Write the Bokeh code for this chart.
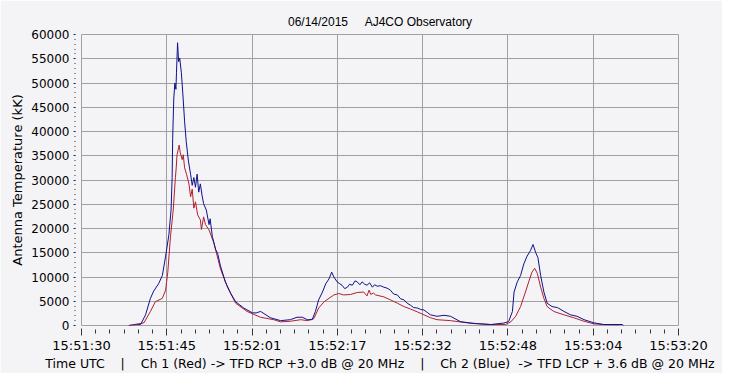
from bokeh.plotting import figure
from bokeh.models import FixedTicker, CustomJSTickFormatter, Range1d
from bokeh.embed import file_html
from bokeh.resources import INLINE

# seconds after 15:51:30 UTC
x_labels = ["15:51:30", "15:51:45", "15:52:01", "15:52:17", "15:52:32", "15:52:48", "15:53:04", "15:53:20"]
x_span = 110.0

blue_t = [8.7, 10.9, 11.8, 12.7, 13.3, 14.2, 14.9, 15.5, 16.1, 16.5,
          16.7, 16.8, 17.0, 17.2, 17.4, 17.5, 17.7, 17.9, 18.1, 18.4,
          18.7, 19.0, 19.3, 19.7, 20.1, 20.4, 20.7, 21.0, 21.3, 21.6,
          21.9, 22.2, 22.5, 23.0, 23.5, 23.7, 24.1, 24.7, 25.1, 25.6,
          26.5, 27.5, 28.4, 29.9, 31.5, 32.2, 33.0, 34.8, 36.7, 38.5,
          39.7, 40.7, 41.6, 42.5, 43.1, 43.7, 44.4, 45.0, 45.6, 46.1,
          46.5, 47.1, 47.6, 48.0, 48.5, 49.0, 49.4, 49.9, 50.4, 50.8,
          51.3, 51.7, 52.2, 52.6, 53.1, 53.6, 54.0, 54.5, 55.1, 55.7,
          56.3, 56.9, 57.5, 58.2, 58.8, 59.4, 60.0, 60.6, 61.2, 61.9,
          62.5, 63.1, 63.7, 64.3, 65.5, 66.8, 68.0, 69.8, 72.3, 75.4,
          77.8, 78.7, 79.4, 79.7, 80.3, 80.9, 81.5, 82.1, 82.7, 83.2,
          83.7, 84.1, 84.6, 85.2, 85.8, 86.7, 87.7, 88.9, 90.1, 91.3,
          92.6, 94.4, 96.2, 99.6, 99.9]
blue_v = [0, 200, 2200, 5600, 7100, 8600, 10300, 14300, 18700, 23800,
          30500, 38600, 46700, 50000, 48700, 52100, 58300, 54400, 55100, 52100,
          47300, 42000, 37900, 33900, 31200, 28900, 30500, 28500, 31200, 27500,
          29200, 26900, 25100, 23800, 20800, 22000, 18400, 15700, 14800, 12300,
          9000, 6600, 4900, 3600, 2600, 2600, 2900, 1600, 1000, 1200,
          1700, 1700, 1200, 1200, 2900, 5300, 6900, 8600, 9600, 11000,
          10000, 9000, 8600, 8300, 7600, 7900, 8500, 8300, 9200, 9000,
          8400, 9000, 8500, 8300, 8800, 7900, 8400, 8100, 8200, 7900,
          7700, 7300, 6500, 6300, 5500, 5300, 4600, 4200, 3700, 3600,
          3300, 3200, 2700, 2200, 1900, 2100, 1900, 800, 400, 200,
          500, 800, 2900, 6900, 9000, 10300, 12700, 14300, 15400, 16700,
          15000, 14000, 10300, 6900, 4600, 3900, 3700, 2900, 2200, 1900,
          1200, 550, 200, 200, 0]

red_t = [8.7, 11.5, 12.7, 13.6, 14.9, 15.5, 15.9, 16.4, 16.9, 17.3,
         17.45, 17.6, 18.0, 18.2, 18.55, 18.75, 19.0, 19.35, 19.8, 20.1,
         20.4, 20.7, 21.0, 21.4, 21.9, 22.1, 22.5, 22.85, 23.5, 24.4,
         25.6, 26.9, 28.4, 30.5, 33.0, 35.4, 36.7, 38.5, 40.4, 41.6,
         42.8, 43.7, 44.7, 45.6, 46.5, 47.4, 48.3, 49.6, 50.8, 52.0,
         52.6, 53.0, 53.3, 53.8, 54.2, 55.7, 56.9, 58.2, 59.4, 60.6,
         61.9, 63.1, 64.3, 65.5, 68.0, 71.1, 75.4, 78.1, 79.1, 80.0,
         80.9, 81.8, 82.4, 83.0, 83.5, 84.0, 84.6, 85.2, 85.8, 87.0,
         88.9, 90.7, 92.6, 94.4, 96.2, 99.0]
red_v = [0, 550, 2900, 4900, 5600, 7300, 11000, 18400, 23800, 30500,
         32500, 35200, 37200, 35600, 34200, 35200, 32500, 31200, 29200, 26500,
         28100, 24200, 25500, 22800, 21800, 19800, 22400, 20800, 19700, 17000,
         11700, 7900, 4600, 2900, 1700, 1200, 750, 870, 1200, 1000,
         1400, 3600, 4900, 5600, 6300, 6600, 6300, 6400, 6800, 6900,
         6100, 7300, 6400, 6700, 6300, 5900, 5300, 4600, 3900, 3400,
         2800, 2200, 1600, 1200, 1000, 550, 200, 200, 750, 1900,
         3900, 6900, 9000, 11000, 11800, 10700, 7900, 5600, 3900, 2900,
         2200, 1600, 870, 340, 200, 100]

y_ticks = list(range(0, 60001, 5000))
y_minor = list(range(0, 60001, 1000))

assert len(blue_t) == len(blue_v) and len(red_t) == len(red_v)

nb = "\u00a0"
title_text = "06/14/2015" + nb * 5 + "AJ4CO Observatory"
x_title = ("Time UTC" + nb * 4 + "|" + nb * 4 + "Ch 1 (Red)" + nb + "->" + nb + "TFD RCP +3.0 dB @ 20 MHz"
           + nb * 4 + "|" + nb * 4 + "Ch 2 (Blue)" + nb * 2 + "->" + nb + "TFD LCP + 3.6 dB @ 20 MHz")
y_title = "Antenna Temperature (kK)"

bg = "#F4F4F7"
grid = "#A0A0A0"

p = figure(width=722, height=373, x_range=Range1d(0, x_span), y_range=Range1d(0, 60000),
           output_backend="svg", toolbar_location=None,
           min_border_left=81, min_border_right=44, min_border_top=34, min_border_bottom=44,
           background_fill_color=bg, border_fill_color=bg)

p.title.text = title_text
p.title.align = "center"
p.title.text_font = "Liberation Sans"
p.title.text_font_size = "12px"
p.title.text_font_style = "normal"
p.title.text_color = "#000000"
p.title.standoff = 11

p.outline_line_color = grid
p.outline_line_width = 1

n_major = len(x_labels)
xt = [i * x_span / (n_major - 1) for i in range(n_major)]
xm = [i * x_span / ((n_major - 1) * 6) for i in range((n_major - 1) * 6 + 1)]
p.xaxis.ticker = FixedTicker(ticks=xt, minor_ticks=xm)
p.xaxis.formatter = CustomJSTickFormatter(args=dict(labels=x_labels, n=n_major - 1, span=x_span),
                                          code="return labels[Math.round(tick*n/span)]")
p.yaxis.ticker = FixedTicker(ticks=y_ticks, minor_ticks=y_minor)
p.xgrid.ticker = FixedTicker(ticks=xt)
p.ygrid.ticker = FixedTicker(ticks=y_ticks)
p.grid.grid_line_color = grid
p.grid.grid_line_alpha = 1.0
p.grid.grid_line_width = 1

for ax in (p.xaxis, p.yaxis):
    ax.axis_line_color = None
    ax.major_tick_line_color = "#333344"
    ax.minor_tick_line_color = "#333344"
    ax.major_label_text_font = "DejaVu Sans"
    ax.major_label_text_color = "#000000"
    ax.axis_label_text_font = "DejaVu Sans"
    ax.axis_label_text_font_style = "normal"
    ax.axis_label_text_color = "#000000"

p.xaxis.major_label_text_font_size = "13px"
p.yaxis.major_label_text_font_size = "12px"
p.xaxis.axis_label_text_font_size = "12.5px"
p.yaxis.axis_label_text_font_size = "13px"

p.xaxis.major_tick_out = 10
p.xaxis.major_tick_in = -3
p.xaxis.minor_tick_out = 8
p.xaxis.minor_tick_in = -4
p.xaxis.major_label_standoff = 2
p.xaxis.axis_label = x_title
p.xaxis.axis_label_standoff = 0

p.yaxis.major_tick_out = 8
p.yaxis.major_tick_in = -6
p.yaxis.minor_tick_out = 7
p.yaxis.minor_tick_in = -6
p.yaxis.major_label_standoff = 4
p.yaxis.axis_label = y_title
p.yaxis.axis_label_standoff = 3

p.line(red_t, red_v, line_color="#B0202E", line_width=1)
p.line(blue_t, blue_v, line_color="#10108A", line_width=1)

open("out.html", "w").write(file_html(p, INLINE))
